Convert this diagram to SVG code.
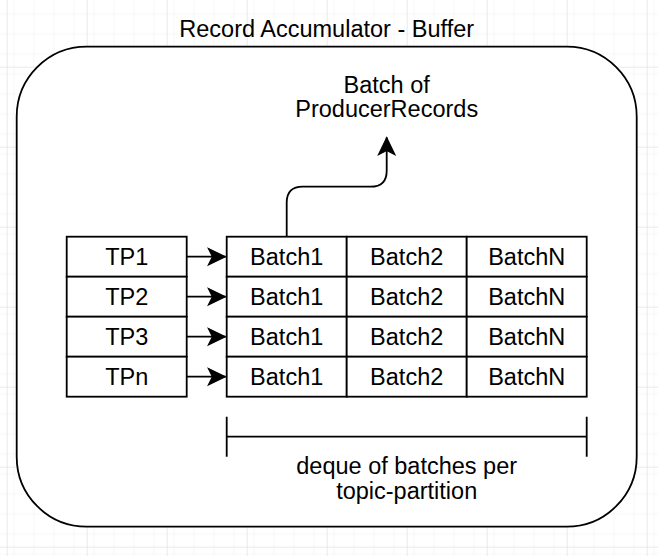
<svg xmlns="http://www.w3.org/2000/svg" width="658" height="556" viewBox="0 0 658 556">
  <style>
    .box { fill: #ffffff; stroke: #000000; stroke-width: 1.8; }
    .container { fill: #ffffff; stroke: #000000; stroke-width: 1.8; }
    .lbl { font-family: "Liberation Sans", Arial, Helvetica, sans-serif; font-size: 23.5px; fill: #000000; text-anchor: middle; }
    .edge { fill: none; stroke: #000000; stroke-width: 1.8; }
  </style>
  <defs>
    <pattern id="minor" x="6.7" y="6.7" width="20" height="20" patternUnits="userSpaceOnUse">
      <path d="M0,0 H20 M0,0 V20" fill="none" stroke="#f0f0f0" stroke-width="1"/>
    </pattern>
    <pattern id="major" x="6.7" y="-13.3" width="80" height="80" patternUnits="userSpaceOnUse">
      <rect width="80" height="80" fill="url(#minor)"/>
      <path d="M0,0 H80 M0,0 V80" fill="none" stroke="#d6d6d6" stroke-width="1"/>
    </pattern>
    <marker id="arrow" markerUnits="userSpaceOnUse" markerWidth="22" markerHeight="22" viewBox="-19 -10 21 20" refX="0" refY="0" orient="auto">
      <path d="M0,0 L-16.5,-8 L-12.5,0 L-16.5,8 Z" fill="#000000" stroke="#000000" stroke-width="1" stroke-linejoin="miter"/>
    </marker>
  </defs>

  <rect x="0" y="0" width="658" height="556" fill="#ffffff"/>
  <rect x="0" y="0" width="658" height="556" fill="url(#major)"/>

  <g id="buffer">
    <rect class="container" x="16.7" y="46.7" width="620" height="480" rx="70" ry="70"/>
    <text class="lbl" x="326.7" y="36.5">Record Accumulator - Buffer</text>
  </g>

  <g id="batch-of-records">
    <text class="lbl" x="386.7" y="93.3">Batch of</text>
    <text class="lbl" x="386.7" y="117">ProducerRecords</text>
  </g>

  <g id="tp1">
    <rect class="box" x="66.7" y="236.7" width="120" height="40"/>
    <text class="lbl" x="126.7" y="265">TP1</text>
  </g>
  <g id="tp2">
    <rect class="box" x="66.7" y="276.7" width="120" height="40"/>
    <text class="lbl" x="126.7" y="305">TP2</text>
  </g>
  <g id="tp3">
    <rect class="box" x="66.7" y="316.7" width="120" height="40"/>
    <text class="lbl" x="126.7" y="345">TP3</text>
  </g>
  <g id="tpn">
    <rect class="box" x="66.7" y="356.7" width="120" height="40"/>
    <text class="lbl" x="126.7" y="385">TPn</text>
  </g>

  <g id="row1">
    <rect class="box" x="226.7" y="236.7" width="120" height="40"/>
    <text class="lbl" x="286.7" y="265">Batch1</text>
    <rect class="box" x="346.7" y="236.7" width="120" height="40"/>
    <text class="lbl" x="406.7" y="265">Batch2</text>
    <rect class="box" x="466.7" y="236.7" width="120" height="40"/>
    <text class="lbl" x="526.7" y="265">BatchN</text>
  </g>
  <g id="row2">
    <rect class="box" x="226.7" y="276.7" width="120" height="40"/>
    <text class="lbl" x="286.7" y="305">Batch1</text>
    <rect class="box" x="346.7" y="276.7" width="120" height="40"/>
    <text class="lbl" x="406.7" y="305">Batch2</text>
    <rect class="box" x="466.7" y="276.7" width="120" height="40"/>
    <text class="lbl" x="526.7" y="305">BatchN</text>
  </g>
  <g id="row3">
    <rect class="box" x="226.7" y="316.7" width="120" height="40"/>
    <text class="lbl" x="286.7" y="345">Batch1</text>
    <rect class="box" x="346.7" y="316.7" width="120" height="40"/>
    <text class="lbl" x="406.7" y="345">Batch2</text>
    <rect class="box" x="466.7" y="316.7" width="120" height="40"/>
    <text class="lbl" x="526.7" y="345">BatchN</text>
  </g>
  <g id="row4">
    <rect class="box" x="226.7" y="356.7" width="120" height="40"/>
    <text class="lbl" x="286.7" y="385">Batch1</text>
    <rect class="box" x="346.7" y="356.7" width="120" height="40"/>
    <text class="lbl" x="406.7" y="385">Batch2</text>
    <rect class="box" x="466.7" y="356.7" width="120" height="40"/>
    <text class="lbl" x="526.7" y="385">BatchN</text>
  </g>

  <g id="deque-bracket">
    <path class="edge" d="M226.7,436.7 H586.7 M226.7,416.7 V456.7 M586.7,416.7 V456.7"/>
    <text class="lbl" x="406.7" y="474">deque of batches per</text>
    <text class="lbl" x="406.7" y="498.5">topic-partition</text>
  </g>

  <g id="connectors">
    <path class="edge" d="M186.7,256.7 H225.5" marker-end="url(#arrow)"/>
    <path class="edge" d="M186.7,296.7 H225.5" marker-end="url(#arrow)"/>
    <path class="edge" d="M186.7,336.7 H225.5" marker-end="url(#arrow)"/>
    <path class="edge" d="M186.7,376.7 H225.5" marker-end="url(#arrow)"/>
    <path class="edge" d="M286.7,236.7 V202.7 Q286.7,186.7 302.7,186.7 H370.7 Q386.7,186.7 386.7,170.7 V137.5" marker-end="url(#arrow)"/>
  </g>
</svg>
